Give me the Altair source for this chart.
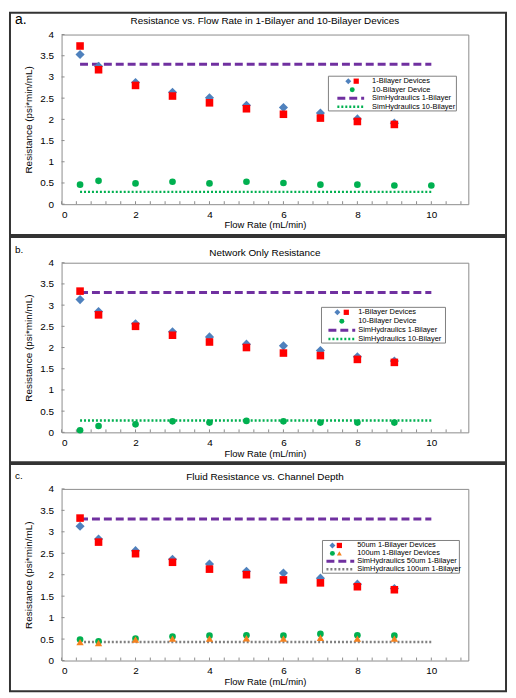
import altair as alt
import pandas as pd

# ---------------- data ----------------
X_DEV = [0.5, 1, 2, 3, 4, 5, 6, 7, 8, 9]
X_TEN = [0.5, 1, 2, 3, 4, 5, 6, 7, 8, 9, 10]
SIM_X = [0.5, 10]

# panel a
A_BLUE = [3.53, 3.25, 2.87, 2.64, 2.51, 2.33, 2.28, 2.15, 2.01, 1.91]
A_RED = [3.73, 3.17, 2.80, 2.55, 2.39, 2.25, 2.12, 2.03, 1.95, 1.88]
A_GREEN = [0.46, 0.55, 0.49, 0.53, 0.49, 0.53, 0.50, 0.46, 0.46, 0.44, 0.44]
A_SIM1 = 3.30
A_SIM10 = 0.29

# panel b
B_BLUE = [3.13, 2.85, 2.56, 2.37, 2.25, 2.08, 2.04, 1.93, 1.78, 1.68]
B_RED = [3.33, 2.77, 2.50, 2.29, 2.13, 2.00, 1.87, 1.81, 1.72, 1.65]
B_GREEN = [0.05, 0.15, 0.19, 0.26, 0.23, 0.27, 0.26, 0.23, 0.23, 0.23]
B_SIM1 = 3.30
B_SIM10 = 0.28

# panel c
C_BLUE = [3.13, 2.83, 2.56, 2.36, 2.25, 2.08, 2.04, 1.92, 1.78, 1.68]
C_RED = [3.32, 2.76, 2.49, 2.29, 2.13, 2.00, 1.88, 1.81, 1.72, 1.65]
C_GREEN = [0.49, 0.45, 0.51, 0.56, 0.58, 0.59, 0.58, 0.62, 0.59, 0.58]
C_ORANGE = [0.43, 0.41, 0.49, 0.51, 0.51, 0.52, 0.51, 0.53, 0.51, 0.51]
C_SIM50 = 3.30
C_SIM100 = 0.43

X_TICKS = [0, 2, 4, 6, 8, 10]
X_MINOR = [0, 0.4, 0.8, 1.2, 1.6, 2, 2.4, 2.8, 3.2, 3.6, 4, 4.4, 4.8, 5.2, 5.6, 6,
           6.4, 6.8, 7.2, 7.6, 8, 8.4, 8.8, 9.2, 9.6, 10, 10.4, 10.8]
Y_TICKS = [0, 0.5, 1, 1.5, 2, 2.5, 3, 3.5, 4]

BLUE = "#4F81BD"
RED = "#FF0000"
GREEN = "#00B050"
PURPLE = "#7030A0"
ORANGE = "#F6821F"
GRAY = "#808080"
AXIS_GRAY = "#8c8c8c"

FONT = "Liberation Sans"
W = 410

XAXIS = alt.Axis(title="Flow Rate (mL/min)", values=X_TICKS, grid=False, ticks=False,
                 domain=False, labelFontSize=10, labelPadding=5, titleFontSize=9.5,
                 titleFontWeight="normal", titlePadding=1, labelColor="#000",
                 titleColor="#000", labelFont=FONT, titleFont=FONT)
YAXIS = alt.Axis(title="Resistance (psi*min/mL)", values=Y_TICKS, format="~g", grid=False,
                 ticks=False, domain=False, labelFontSize=10, labelPadding=8,
                 titleFontSize=10, titleFontWeight="normal", titlePadding=6,
                 labelColor="#000", titleColor="#000", labelFont=FONT, titleFont=FONT)
XSCALE = alt.Scale(domain=[0, 11], nice=False, zero=False)
YSCALE = alt.Scale(domain=[0, 4], nice=False)


def enc(chart):
    return chart.encode(
        x=alt.X("x:Q", scale=XSCALE, axis=XAXIS),
        y=alt.Y("y:Q", scale=YSCALE, axis=YAXIS),
    )


def pts(xs, ys, shape, color, size):
    df = pd.DataFrame({"x": xs, "y": ys})
    return enc(alt.Chart(df).mark_point(shape=shape, filled=True, color=color,
                                         size=size, opacity=1, strokeWidth=0))


def hline(val, color, dash, width):
    df = pd.DataFrame({"x": SIM_X, "y": [val, val]})
    return enc(alt.Chart(df).mark_line(color=color, strokeDash=dash, strokeWidth=width))


def inner_ticks(height):
    xt = alt.Chart(pd.DataFrame({"x": X_MINOR})).mark_rule(
        color=AXIS_GRAY, strokeWidth=1).encode(
        x=alt.X("x:Q", scale=XSCALE, axis=XAXIS),
        y=alt.value(height), y2=alt.value(height - 3))
    yt = alt.Chart(pd.DataFrame({"y": Y_TICKS})).mark_rule(
        color=AXIS_GRAY, strokeWidth=1).encode(
        y=alt.Y("y:Q", scale=YSCALE, axis=YAXIS),
        x=alt.value(0), x2=alt.value(3))
    return [xt, yt]


ONE = pd.DataFrame({"k": [0]})


def vtext(txt, x, y, size, align="left", baseline="middle", weight="normal"):
    return alt.Chart(ONE).mark_text(text=txt, align=align, baseline=baseline, fontSize=size,
                                    font=FONT, color="#000", fontWeight=weight).encode(
        x=alt.value(x), y=alt.value(y))


def vpoint(x, y, shape, color, size):
    return alt.Chart(ONE).mark_point(shape=shape, filled=True, color=color, size=size,
                                     opacity=1, strokeWidth=0).encode(
        x=alt.value(x), y=alt.value(y))


def vrule(x0, x1, y, color, dash, width):
    return alt.Chart(ONE).mark_rule(color=color, strokeDash=dash, strokeWidth=width).encode(
        x=alt.value(x0), x2=alt.value(x1), y=alt.value(y))


def vrect(x0, x1, y0, y1, stroke, width, fill="#ffffff", fill_op=1.0):
    return alt.Chart(ONE).mark_rect(stroke=stroke, strokeWidth=width, fill=fill,
                                    fillOpacity=fill_op).encode(
        x=alt.value(x0), x2=alt.value(x1), y=alt.value(y0), y2=alt.value(y1))


def legend(box, rows, row_h, first_y, sym_dx, line_dx, text_dx, fsize):
    x0, x1, y0, y1 = box
    layers = [vrect(x0, x1, y0, y1, "#7f7f7f", 1)]
    for i, row in enumerate(rows):
        yy = first_y + i * row_h
        kind = row[0]
        if kind == "sym":
            items = row[1]
            if len(items) == 1:
                shape, color, size = items[0]
                layers.append(vpoint(x0 + (sym_dx[0] + sym_dx[1]) / 2, yy, shape, color, size))
            else:
                for j, (shape, color, size) in enumerate(items):
                    layers.append(vpoint(x0 + sym_dx[j], yy, shape, color, size))
        else:
            color, dash, width = row[1]
            layers.append(vrule(x0 + line_dx[0], x0 + line_dx[1], yy, color, dash, width))
        layers.append(vtext(row[2], x0 + text_dx, yy, fsize))
    return layers


def panel(label, label_size, label_y, title, title_y, data_layers, leg_layers,
          f_top, f_bot, height):
    frame = vrect(-52, 448, f_top, f_bot, "#333333", 2, fill="#ffffff", fill_op=0)
    lab = vtext(label, -47, label_y, label_size)
    ttl = vtext(title, W / 2, title_y, 10, align="center")
    return alt.layer(*inner_ticks(height), *data_layers, *leg_layers, lab, ttl,
                     frame).properties(width=W, height=height)


DASH1 = [8, 4]
DOT = [2, 2]
DIA = 85
SQ = 58
CIR = 45

pa = panel(
    "a.", 14, -15, "Resistance vs. Flow Rate in 1-Bilayer and 10-Bilayer Devices", -14,
    [
        hline(A_SIM1, PURPLE, DASH1, 3),
        hline(A_SIM10, GREEN, DOT, 2.5),
        pts(X_DEV, A_BLUE, "diamond", BLUE, DIA),
        pts(X_DEV, A_RED, "square", RED, SQ),
        pts(X_TEN, A_GREEN, "circle", GREEN, CIR),
    ],
    legend((269, 398, 42, 77), [
        ("sym", [("diamond", BLUE, 36), ("square", RED, 28)], "1-Bilayer Devices"),
        ("sym", [("circle", GREEN, 25)], "10-Bilayer Device"),
        ("line", (PURPLE, DASH1, 3), "SimHydraulics 1-Bilayer"),
        ("line", (GREEN, DOT, 2.5), "SimHydraulics 10-Bilayer"),
    ], 8.6, 47, (20, 28), (9, 36), 44, 7.5),
    -22, 202, 171,
)

pb = panel(
    "b.", 10, -13, "Network Only Resistance", -10,
    [
        hline(B_SIM1, PURPLE, DASH1, 3),
        hline(B_SIM10, GREEN, DOT, 2.5),
        pts(X_DEV, B_BLUE, "diamond", BLUE, DIA),
        pts(X_DEV, B_RED, "square", RED, SQ),
        pts(X_DEV, B_GREEN, "circle", GREEN, CIR),
    ],
    legend((262, 387, 45, 81), [
        ("sym", [("diamond", BLUE, 36), ("square", RED, 28)], "1-Bilayer Devices"),
        ("sym", [("circle", GREEN, 25)], "10-Bilayer Device"),
        ("line", (PURPLE, DASH1, 3), "SimHydraulics 1-Bilayer"),
        ("line", (GREEN, DOT, 2.5), "SimHydraulics 10-Bilayer"),
    ], 9, 50, (16, 25), (7, 34), 37, 7.5),
    -26, 201, 171,
)

pc = panel(
    "c.", 10, -13, "Fluid Resistance vs. Channel Depth", -12,
    [
        hline(C_SIM50, PURPLE, DASH1, 3),
        hline(C_SIM100, GRAY, DOT, 2.5),
        pts(X_DEV, C_BLUE, "diamond", BLUE, DIA),
        pts(X_DEV, C_RED, "square", RED, SQ),
        pts(X_DEV, C_GREEN, "circle", GREEN, CIR),
        pts(X_DEV, C_ORANGE, "triangle-up", ORANGE, 55),
    ],
    legend((263, 401, 52, 85), [
        ("sym", [("diamond", BLUE, 36), ("square", RED, 28)], "50um 1-Bilayer Devices"),
        ("sym", [("circle", GREEN, 25), ("triangle-up", ORANGE, 25)], "100um 1-Bilayer Devices"),
        ("line", (PURPLE, DASH1, 3), "SimHydraulics 50um 1-Bilayer"),
        ("line", (GRAY, DOT, 2.5), "SimHydraulics 100um 1-Bilayer"),
    ], 8, 57, (10, 17), (4, 32), 35, 7.5),
    -25, 204, 173,
)

chart = alt.vconcat(pa, pb, pc, spacing=-2).properties(
    padding=0, background="#ffffff"
).configure(font=FONT).configure_view(stroke=AXIS_GRAY, strokeWidth=1)

chart.save("out.html", embed_options={"renderer": "svg", "actions": False})
